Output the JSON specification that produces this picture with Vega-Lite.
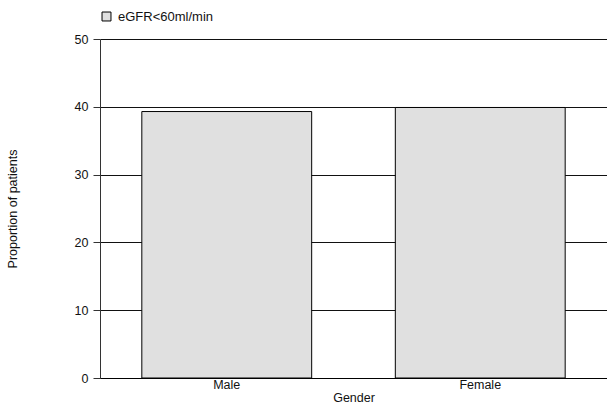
{
  "$schema": "https://vega.github.io/schema/vega-lite/v6.json",
  "width": 507,
  "height": 339,
  "autosize": {"type": "none"},
  "padding": {"left": 100, "top": 39, "right": 0, "bottom": 30},
  "background": "white",
  "config": {
    "view": {"stroke": null},
    "font": "Liberation Sans",
    "axis": {"labelFont": "Liberation Sans", "titleFont": "Liberation Sans", "labelFontSize": 12.5, "titleFontSize": 12.5, "titleFontWeight": "normal", "labelColor": "#111", "titleColor": "#111"},
    "legend": {"labelFont": "Liberation Sans", "labelFontSize": 13}
  },
  "data": {
    "values": [
      {"gender": "Male", "proportion": 39.3, "series": "eGFR<60ml/min"},
      {"gender": "Female", "proportion": 39.9, "series": "eGFR<60ml/min"}
    ]
  },
  "mark": {"type": "bar", "stroke": "#000", "strokeWidth": 1, "opacity": 1},
  "encoding": {
    "x": {
      "field": "gender",
      "type": "nominal",
      "sort": ["Male", "Female"],
      "scale": {"paddingInner": 0.33, "paddingOuter": 0.165},
      "axis": {"title": "Gender", "labelAngle": 0, "ticks": false, "domain": true, "domainColor": "#000", "labelPadding": 0, "titlePadding": 1}
    },
    "y": {
      "field": "proportion",
      "type": "quantitative",
      "scale": {"domain": [0, 50], "nice": false},
      "axis": {"title": "Proportion of patients", "values": [0, 10, 20, 30, 40, 50], "grid": true, "gridColor": "#111", "gridOpacity": 1, "domainColor": "#333", "tickColor": "#333", "tickSize": 7, "labelPadding": 5, "titlePadding": 55}
    },
    "color": {
      "field": "series",
      "type": "nominal",
      "scale": {"range": ["#e0e0e0"]},
      "legend": {"title": null, "orient": "none", "legendX": 0, "legendY": -29, "symbolType": "square", "symbolSize": 80, "symbolStrokeColor": "#000", "symbolStrokeWidth": 1, "symbolFillColor": "#e0e0e0", "labelColor": "#111", "labelOffset": 5}
    }
  }
}
